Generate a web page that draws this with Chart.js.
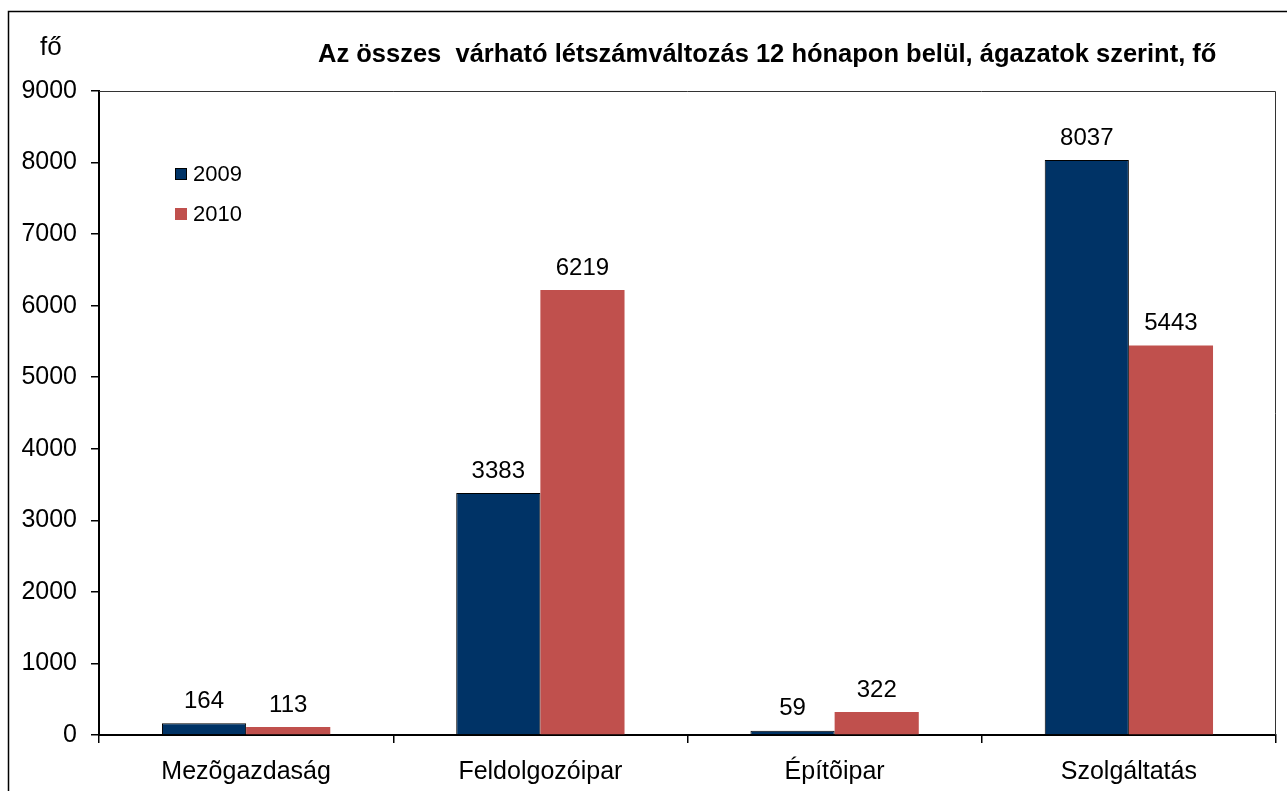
<!DOCTYPE html>
<html>
<head>
<meta charset="utf-8">
<script src="https://cdn.jsdelivr.net/npm/chart.js@4.4.1/dist/chart.umd.min.js"></script>
<style>
html,body{margin:0;padding:0;background:#fff;}
#wrap{position:relative;width:1287px;height:791px;}
</style>
</head>
<body>
<div id="wrap"><canvas id="c"></canvas></div>
<script>
const categories = ["Mezõgazdaság", "Feldolgozóipar", "Építõipar", "Szolgáltatás"];
const values2009 = [164, 3383, 59, 8037];
const values2010 = [113, 6219, 322, 5443];
const seriesLabels = ["2009", "2010"];
const titleText = "Az összes  várható létszámváltozás 12 hónapon belül, ágazatok szerint, fő";
const unitText = "fő";

const FONT = "'Liberation Sans', Arial, sans-serif";

const decor = {
  id: 'decor',
  beforeDatasetsDraw(chart) {
    const ctx = chart.ctx, a = chart.chartArea;
    ctx.save();
    ctx.strokeStyle = '#333';
    ctx.lineWidth = 1;
    ctx.beginPath();
    ctx.moveTo(a.left, a.top + 0.5);
    ctx.lineTo(a.right - 0.5, a.top + 0.5);
    ctx.lineTo(a.right - 0.5, a.bottom);
    ctx.stroke();
    ctx.restore();
  },
  afterDraw(chart) {
    const ctx = chart.ctx;
    ctx.save();
    ctx.strokeStyle = '#000';
    ctx.lineWidth = 1.5;
    ctx.strokeRect(8.5, 11.5, 1400, 1000);
    ctx.fillStyle = '#000';
    ctx.font = "bold 25.5px " + FONT;
    ctx.textAlign = 'left';
    ctx.textBaseline = 'middle';
    ctx.fillText(titleText, 318, 55);
    ctx.font = "26px " + FONT;
    ctx.fillText(unitText, 40, 48);
    const ds = chart.data.datasets;
    const ly = [174, 214];
    ds.forEach((d, i) => {
      ctx.fillStyle = d.backgroundColor;
      ctx.fillRect(175, ly[i] - 6, 12, 12);
      if (d.borderWidth) {
        ctx.strokeStyle = '#000';
        ctx.lineWidth = 1;
        ctx.strokeRect(175.5, ly[i] - 5.5, 11, 11);
      }
      ctx.fillStyle = '#000';
      ctx.font = "22px " + FONT;
      ctx.textBaseline = 'middle';
      ctx.fillText(d.label, 193, ly[i] + 1);
    });
    ctx.font = "24px " + FONT;
    ctx.textAlign = 'center';
    ctx.textBaseline = 'bottom';
    ctx.fillStyle = '#000';
    chart.data.datasets.forEach((d, i) => {
      const meta = chart.getDatasetMeta(i);
      meta.data.forEach((el, j) => {
        ctx.fillText(String(d.data[j]), el.x, el.y - 10);
      });
    });
    ctx.restore();
  }
};

new Chart(document.getElementById('c'), {
  type: 'bar',
  data: {
    labels: categories,
    datasets: [
      { label: seriesLabels[0], data: values2009, backgroundColor: '#003366', borderColor: '#000', borderWidth: 1, borderSkipped: 'bottom' },
      { label: seriesLabels[1], data: values2010, backgroundColor: '#C0504D', borderWidth: 0 }
    ]
  },
  options: {
    responsive: true,
    maintainAspectRatio: false,
    animation: false,
    devicePixelRatio: 1,
    layout: { padding: { left: 0, top: 91, right: 11, bottom: 0 } },
    plugins: { legend: { display: false }, title: { display: false }, tooltip: { enabled: false } },
    datasets: { bar: { categoryPercentage: 0.572, barPercentage: 1.0 } },
    scales: {
      x: {
        offset: true,
        grid: { offset: true, drawOnChartArea: false, drawTicks: true, tickLength: 8, color: '#000', lineWidth: 1.5 },
        border: { color: '#000', width: 2 },
        ticks: { color: '#000', font: { family: FONT, size: 25 }, padding: 14, maxRotation: 0 },
        afterFit(s) { s.height = 56; }
      },
      y: {
        min: 0, max: 9000,
        ticks: { stepSize: 1000, color: '#000', font: { family: FONT, size: 25 }, padding: 14, callback: v => String(v) },
        grid: { drawOnChartArea: false, drawTicks: true, tickLength: 8, color: '#000', lineWidth: 1.5 },
        border: { color: '#000', width: 2 },
        afterFit(s) { s.width = 99; }
      }
    }
  },
  plugins: [decor]
});
</script>
</body>
</html>
